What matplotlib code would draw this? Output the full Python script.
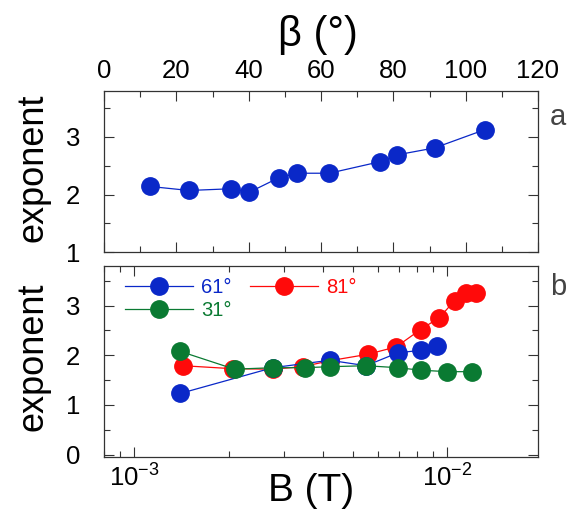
import numpy as np
import matplotlib
matplotlib.use('Agg')
import matplotlib.pyplot as plt
from matplotlib.ticker import MultipleLocator, LogLocator

plt.rcParams['font.family'] = ['Liberation Sans', 'DejaVu Sans']
plt.rcParams['mathtext.fontset'] = 'custom'
plt.rcParams['mathtext.rm'] = 'Liberation Sans'
plt.rcParams['mathtext.it'] = 'Liberation Sans:italic'

# --- data (a): exponent vs beta ---
beta = [12.7, 23.5, 35.2, 40.2, 48.3, 53.4, 62.3, 76.3, 81.1, 91.4, 105.4]
exp_beta = [2.14, 2.07, 2.10, 2.04, 2.29, 2.37, 2.37, 2.57, 2.69, 2.81, 3.13]

# --- data (b): exponent vs B for three angles ---
B_61 = [1.40e-3, 2.77e-3, 4.21e-3, 5.5e-3, 6.95e-3, 8.22e-3, 9.3e-3]
exp_61 = [1.23, 1.75, 1.90, 1.79, 2.05, 2.10, 2.18]

B_81 = [1.43e-3, 2.06e-3, 2.77e-3, 3.45e-3, 4.21e-3, 5.57e-3, 6.87e-3,
        8.22e-3, 9.44e-3, 1.055e-2, 1.15e-2, 1.24e-2]
exp_81 = [1.79, 1.73, 1.72, 1.77, 1.89, 2.02, 2.17, 2.52, 2.76, 3.10, 3.25, 3.26]

B_31 = [1.40e-3, 2.09e-3, 2.77e-3, 3.5e-3, 4.21e-3, 5.5e-3, 6.95e-3,
        8.22e-3, 1.0e-2, 1.2e-2]
exp_31 = [2.08, 1.72, 1.75, 1.75, 1.77, 1.79, 1.75, 1.70, 1.67, 1.67]

blue = '#0a28c8'
red = '#ff0a0a'
green = '#0a7a32'
ms = 12.5

W, H = 569, 512
fig = plt.figure(figsize=(W / 100, H / 100), dpi=100)

def frac(l, t, r, b):
    return [l / W, 1 - b / H, (r - l) / W, (b - t) / H]

ax1 = fig.add_axes(frac(104, 91, 538, 252))
ax2 = fig.add_axes(frac(104, 266, 538, 457))

for ax in (ax1, ax2):
    for s in ax.spines.values():
        s.set_linewidth(0.9)
        s.set_color('#333333')
    ax.tick_params(which='both', direction='in', top=True, right=True,
                   width=0.8, color='#333333', labelsize=18.5)
    ax.tick_params(which='major', length=7)
    ax.tick_params(which='minor', length=4)
    ax.tick_params(axis='y', pad=17)

# --- panel a ---
ax1.plot(beta, exp_beta, '-o', color=blue, lw=0.9, ms=ms, mec=blue)
ax1.set_xlim(0, 120)
ax1.set_ylim(1, 3.8)
ax1.xaxis.set_major_locator(MultipleLocator(20))
ax1.xaxis.set_minor_locator(MultipleLocator(10))
ax1.yaxis.set_major_locator(MultipleLocator(1))
ax1.yaxis.set_minor_locator(MultipleLocator(0.5))
ax1.tick_params(axis='x', labeltop=True, labelbottom=False, pad=6)

# --- panel b ---
ax2.plot(B_61, exp_61, '-o', color=blue, lw=0.9, ms=ms, mec=blue, label='61°')
ax2.plot(B_31, exp_31, '-o', color=green, lw=0.9, ms=ms, mec=green, label='31°')
ax2.plot(B_81, exp_81, '-o', color=red, lw=0.9, ms=ms, mec=red, label='81°', zorder=1.9)
ax2.set_xscale('log')
ax2.set_xlim(8e-4, 1.95e-2)
ax2.set_ylim(-0.05, 3.8)
ax2.xaxis.set_major_locator(LogLocator(base=10))
ax2.xaxis.set_minor_locator(LogLocator(base=10, subs=np.arange(2, 10)))
ax2.yaxis.set_major_locator(MultipleLocator(1))
ax2.yaxis.set_minor_locator(MultipleLocator(0.5))
ax2.tick_params(axis='x', pad=5)

leg = ax2.legend(loc='upper left', bbox_to_anchor=(0.048, 0.935), ncol=2,
                 frameon=False, fontsize=14.5, handlelength=3.4,
                 handletextpad=0.4, columnspacing=0.9, labelspacing=0.2,
                 borderaxespad=0, borderpad=0, labelcolor='linecolor')

# --- labels ---
fig.text(318 / W, 1 - 35 / H, 'β (°)', ha='center', va='center', fontsize=30)
fig.text(311 / W, 1 - 491 / H, 'B (T)', ha='center', va='center', fontsize=28)
fig.text(33 / W, 1 - 168 / H, 'exponent', rotation=90, ha='center', va='center', fontsize=26)
fig.text(33 / W, 1 - 357 / H, 'exponent', rotation=90, ha='center', va='center', fontsize=26)
fig.text(558 / W, 1 - 117 / H, 'a', ha='center', va='center', fontsize=21, color='#444444')
fig.text(558 / W, 1 - 287 / H, 'b', ha='center', va='center', fontsize=21, color='#444444')

fig.savefig('out.png', dpi=100)
